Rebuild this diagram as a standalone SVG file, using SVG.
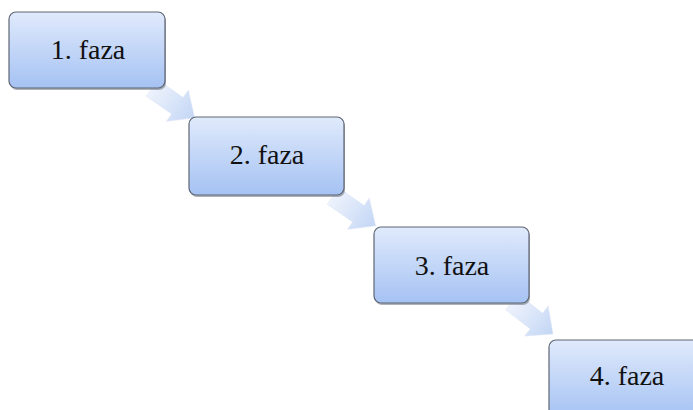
<svg xmlns="http://www.w3.org/2000/svg" width="693" height="410" viewBox="0 0 693 410">
  <defs>
    <linearGradient id="boxGrad" x1="0" y1="0" x2="0" y2="1">
      <stop offset="0" stop-color="#e0eafc"/>
      <stop offset="1" stop-color="#a5c2f3"/>
    </linearGradient>
    <linearGradient id="arrowGrad" x1="0" y1="0" x2="1" y2="0">
      <stop offset="0" stop-color="#eef3fc"/>
      <stop offset="1" stop-color="#c3d6f5"/>
    </linearGradient>
    <polygon id="arrowShape" points="0,-10 31,-10 31,-19 52,0 31,19 31,10 0,10"/>
  </defs>
  <style>
    .shadow { fill: #6b7280; opacity: 0.55; }
    .box { fill: url(#boxGrad); stroke: #5f6675; stroke-width: 1.2; }
    .label { font-size: 28px; fill: #111; text-anchor: middle; }
    .arrow { fill: url(#arrowGrad); stroke: #dbe4f4; stroke-width: 0.5; }
  </style>
  <rect width="693" height="410" fill="#ffffff"/>
  <g id="connectors">
    <use href="#arrowShape" class="arrow" transform="translate(152,88) rotate(35)"/>
    <use href="#arrowShape" class="arrow" transform="translate(333,196) rotate(35)"/>
    <use href="#arrowShape" class="arrow" transform="translate(512,302) rotate(38)"/>
  </g>
  <g id="node1">
    <rect class="shadow" x="10" y="14" width="156" height="76" rx="7"/>
    <rect class="box" x="9" y="12" width="156" height="76" rx="7"/>
    <text class="label" font-family="Liberation Serif, Times New Roman, serif" x="88" y="59">1. faza</text>
  </g>
  <g id="node2">
    <rect class="shadow" x="190" y="119" width="155" height="78" rx="7"/>
    <rect class="box" x="189" y="117" width="155" height="78" rx="7"/>
    <text class="label" font-family="Liberation Serif, Times New Roman, serif" x="267" y="164">2. faza</text>
  </g>
  <g id="node3">
    <rect class="shadow" x="375" y="229" width="155" height="76" rx="7"/>
    <rect class="box" x="374" y="227" width="155" height="76" rx="7"/>
    <text class="label" font-family="Liberation Serif, Times New Roman, serif" x="452" y="275">3. faza</text>
  </g>
  <g id="node4">
    <rect class="shadow" x="550" y="342" width="156" height="78" rx="7"/>
    <rect class="box" x="549" y="340" width="156" height="78" rx="7"/>
    <text class="label" font-family="Liberation Serif, Times New Roman, serif" x="627" y="385">4. faza</text>
  </g>
</svg>
